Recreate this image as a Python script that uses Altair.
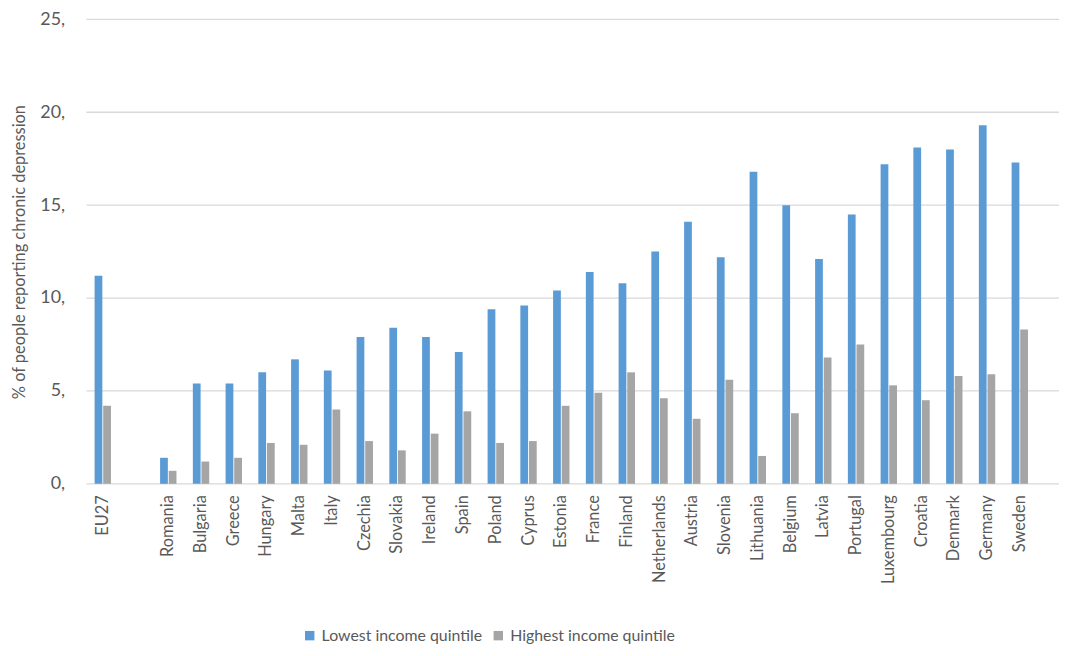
import altair as alt
import pandas as pd

countries = ["EU27", " ", "Romania", "Bulgaria", "Greece", "Hungary", "Malta", "Italy",
             "Czechia", "Slovakia", "Ireland", "Spain", "Poland", "Cyprus", "Estonia",
             "France", "Finland", "Netherlands", "Austria", "Slovenia", "Lithuania",
             "Belgium", "Latvia", "Portugal", "Luxembourg", "Croatia", "Denmark",
             "Germany", "Sweden"]

lowest = [11.2, None, 1.4, 5.4, 5.4, 6.0, 6.7, 6.1, 7.9, 8.4, 7.9, 7.1, 9.4, 9.6, 10.4,
          11.4, 10.8, 12.5, 14.1, 12.2, 16.8, 15.0, 12.1, 14.5, 17.2, 18.1, 18.0, 19.3, 17.3]
highest = [4.2, None, 0.7, 1.2, 1.4, 2.2, 2.1, 4.0, 2.3, 1.8, 2.7, 3.9, 2.2, 2.3, 4.2,
           4.9, 6.0, 4.6, 3.5, 5.6, 1.5, 3.8, 6.8, 7.5, 5.3, 4.5, 5.8, 5.9, 8.3]

series = ["Lowest income quintile", "Highest income quintile"]
colors = ["#5B9BD5", "#A5A5A5"]
grid_values = [0, 5, 10, 15, 20, 25]

rows = []
for c, lo, hi in zip(countries, lowest, highest):
    if lo is not None:
        rows.append({"country": c, "series": series[0], "value": lo})
    if hi is not None:
        rows.append({"country": c, "series": series[1], "value": hi})
df = pd.DataFrame(rows)
grid_df = pd.DataFrame({"v": grid_values})

FONT = "Lato"
TXT = "#595959"

yscale = alt.Scale(domain=[0, 25])
yaxis = alt.Axis(title="% of people reporting chronic depression",
                 values=grid_values, labelExpr="datum.value + ','",
                 labelFont=FONT, labelFontSize=18,
                 labelColor=TXT, labelPadding=22, ticks=False,
                 domain=False, grid=False,
                 titleFont=FONT, titleFontSize=16.5,
                 titleFontWeight="normal", titleColor=TXT,
                 titlePadding=12)

grid = alt.Chart(grid_df).mark_rule(color="#D9D9D9", strokeWidth=1.3).encode(
    y=alt.Y("v:Q", scale=yscale, axis=yaxis,
            title="% of people reporting chronic depression"),
    x=alt.value(0), x2=alt.value(980),
)

bars = alt.Chart(df).mark_bar().encode(
    x=alt.X("country:N", sort=countries,
            scale=alt.Scale(domain=countries, paddingInner=0.5, paddingOuter=0.25),
            axis=alt.Axis(title=None, labelAngle=-90, labelFont=FONT,
                          labelFontSize=16.5, labelColor=TXT, ticks=False,
                          domain=False, labelPadding=11, labelLimit=0)),
    xOffset=alt.XOffset("series:N", sort=series, scale=alt.Scale(paddingInner=0.1)),
    y=alt.Y("value:Q", scale=yscale, axis=yaxis,
            title="% of people reporting chronic depression"),
    color=alt.Color("series:N", sort=series,
                    scale=alt.Scale(domain=series, range=colors),
                    legend=alt.Legend(title=None, orient="none", direction="horizontal",
                                      legendX=217, legendY=613, symbolType="square",
                                      symbolSize=90, symbolStrokeWidth=0,
                                      labelFont=FONT, labelLimit=0,
                                      labelFontSize=16, labelColor=TXT,
                                      columnPadding=8, labelOffset=4)),
)

chart = alt.layer(grid, bars).properties(
    width=957, height=468,
    autosize=alt.AutoSizeParams(type="none"),
    padding={"left": 79, "top": 9, "right": 23, "bottom": 163},
).configure_view(stroke=None)

chart.save("out.html", embed_options={"renderer": "svg", "actions": False})
